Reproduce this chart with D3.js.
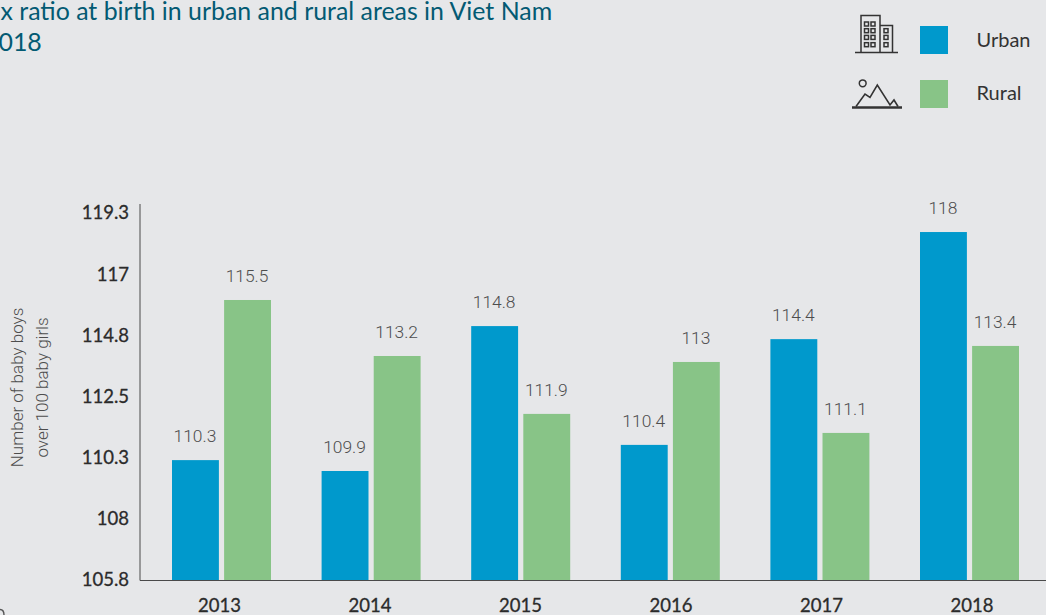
<!DOCTYPE html>
<html><head><meta charset="utf-8">
<script src="https://cdnjs.cloudflare.com/ajax/libs/d3/7.8.5/d3.min.js"></script>
<style>html,body{margin:0;padding:0;background:#e6e7e9;overflow:hidden}svg{display:block;font-family:Lato,"Open Sans",sans-serif}</style>
</head><body><svg id="c" width="1046" height="615"></svg>
<script>
const years = ["2013","2014","2015","2016","2017","2018"];
// Printed labels, as they read in the source.
const urbanLabels = ["110.3","109.9","114.8","110.4","114.4","118"];
const ruralLabels = ["115.5","113.2","111.9","113","111.1","113.4"];
// Bar heights as read against the axis (the source's bars do not sit exactly at their printed labels).
const urbanValues = [110.21,109.81,115.14,110.77,114.66,118.6];
const ruralValues = [116.1,114.04,111.91,113.82,111.21,114.41];
const tickLabels = ["105.8","108","110.3","112.5","114.8","117","119.3"];
const tickValues = [105.8,108.05,110.3,112.55,114.8,117.05,119.3];
const titleLines = ["x ratio at birth in urban and rural areas in Viet Nam","018"];

const svg = d3.select("#c");
const colors = {Urban:"#0099cc", Rural:"#88c487"};
const ink = "#2b2b2b";
const y = d3.scaleLinear().domain([105.8,119.3]).range([580,213]);
const x0 = d3.scaleBand().domain(years).range([146.7,1044.3]);
const x1 = d3.scaleBand().domain(["Urban","Rural"]).range([25.3,124.3]).paddingInner(0.1);
const xLabel = d3.scalePoint().domain(years).range([219,971.5]);

svg.append("text").attr("x",0.5).attr("y",19.5).attr("font-size",24.9).attr("fill","#035a73").text(titleLines[0]);
svg.append("text").attr("x",-1.5).attr("y",51).attr("font-size",24.9).attr("fill","#035a73").text(titleLines[1]);

// axes
const yAxis = d3.axisLeft(y).tickValues(tickValues).tickSize(0).tickPadding(11).tickFormat((d,i)=>tickLabels[i]);
const gy = svg.append("g").attr("transform","translate(140,0)").call(yAxis);
gy.select(".domain").remove();
gy.selectAll("text").attr("font-size",18.5).attr("fill",ink).attr("font-family","Lato,sans-serif").attr("stroke",ink).attr("stroke-width",.3);
svg.append("line").attr("x1",140).attr("x2",140).attr("y1",204).attr("y2",580.5).attr("stroke","#4a4a4a").attr("stroke-width",1);

const xAxis = d3.axisBottom(xLabel).tickSize(0).tickPadding(19);
const gx = svg.append("g").attr("transform","translate(0,580)").call(xAxis);
gx.select(".domain").remove();
gx.selectAll("text").attr("font-size",18.5).attr("fill",ink).attr("font-family","Lato,sans-serif").attr("stroke",ink).attr("stroke-width",.3);

// bars
const series = [["Urban",urbanValues,urbanLabels],["Rural",ruralValues,ruralLabels]];
series.forEach(([name,vals,labs])=>{
  const g = svg.append("g");
  g.selectAll("rect").data(vals).join("rect")
    .attr("x",(d,i)=>x0(years[i])+x1(name)).attr("width",x1.bandwidth())
    .attr("y",d=>y(d)).attr("height",d=>y(105.8)-y(d)).attr("fill",colors[name]);
  g.selectAll("text").data(vals).join("text")
    .attr("x",(d,i)=>x0(years[i])+x1(name)+x1.bandwidth()/2-0.5).attr("y",d=>y(d)-18)
    .attr("text-anchor","middle").attr("font-size",17.4).attr("font-weight",300).attr("font-family","Roboto,sans-serif").attr("fill","#4d4d4d")
    .text((d,i)=>labs[i]);
});
svg.append("line").attr("x1",140).attr("x2",1046).attr("y1",580.5).attr("y2",580.5).attr("stroke","#4a4a4a").attr("stroke-width",1);

// y title
const t = svg.append("text").attr("transform","translate(0,387.5) rotate(-90)").attr("text-anchor","middle").attr("font-size",17).attr("font-weight",300).attr("font-family","Roboto,sans-serif").attr("fill","#4d4d4d");
t.append("tspan").attr("x",0).attr("y",23).text("Number of baby boys");
t.append("tspan").attr("x",0).attr("y",48).text("over 100 baby girls");

// legend
[["Urban",26,47],["Rural",80,100]].forEach(([n,ry,ty])=>{
  svg.append("rect").attr("x",920).attr("y",ry).attr("width",28).attr("height",28).attr("fill",colors[n]);
  svg.append("text").attr("x",976.5).attr("y",ty).attr("font-size",20).attr("fill","#333").text(n);
});
const ic = svg.append("g").attr("fill","none").attr("stroke","#333").attr("stroke-width",1.5);
ic.append("path").attr("d","M855 52.5H898M861 52.5V15.5H880V52.5M880 25.5H892.5V52.5");
[[864.5,22],[864.5,28.7],[864.5,35.4],[864.5,42.7],[871,22],[871,28.7],[871,35.4],[871,42.7],[884,28.7],[884,35.4],[884,42.7]].forEach(([a,b])=>
  ic.append("rect").attr("x",a).attr("y",b).attr("width",4).attr("height",4));
ic.append("circle").attr("cx",862.7).attr("cy",83.3).attr("r",3.4);
ic.append("path").attr("d","M856 106.5L865 94L870 97.3L877.3 85L890 105L894 100L898 106.5").attr("stroke-width",1.6);
ic.append("path").attr("d","M852 107.5H902").attr("stroke-width",2.4);
ic.append("path").attr("d","M0 609.5Q4 609.5 4 615").attr("stroke-width",1.4).attr("stroke","#555");
</script></body></html>
